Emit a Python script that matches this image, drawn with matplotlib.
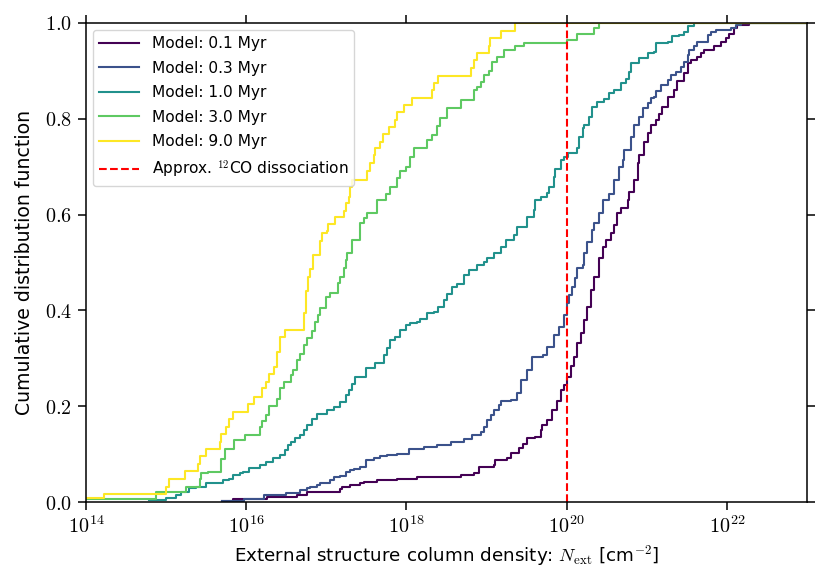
import numpy as np
import matplotlib
matplotlib.use("Agg")
import matplotlib.pyplot as plt
from matplotlib.ticker import FixedLocator, FuncFormatter

# ---------------- data (log10 N_ext knots, CDF value after each knot) ----------------
labels = ["Model: 0.1 Myr", "Model: 0.3 Myr", "Model: 1.0 Myr", "Model: 3.0 Myr", "Model: 9.0 Myr"]
colors = ["#440154", "#3b528b", "#21918c", "#5ec962", "#fde725"]

logN_01 = [15.70, 15.84, 16.26, 16.63, 16.76, 17.175, 17.20, 17.30, 17.425, 17.47, 17.63, 17.88,
           18.13, 18.675, 18.84, 18.90, 19.09, 19.11, 19.26, 19.30, 19.40, 19.45, 19.51, 19.61,
           19.675, 19.695, 19.76, 19.82, 19.885, 19.925, 19.97, 20.01, 20.05, 20.09, 20.13,
           20.175, 20.22, 20.26, 20.30, 20.34, 20.40, 20.45, 20.49, 20.55, 20.59, 20.63, 20.675,
           20.76, 20.78, 20.84, 20.885, 20.905, 20.965, 21.01, 21.05, 21.11, 21.155, 21.195,
           21.26, 21.34, 21.38, 21.47, 21.51, 21.55, 21.63, 21.675, 21.715, 21.84, 21.925,
           21.99, 22.03, 22.09, 22.13, 22.28, 23.0]
cdf_01 = [0.003, 0.007, 0.011, 0.015, 0.021, 0.028, 0.032, 0.035, 0.039, 0.042, 0.046, 0.049,
          0.053, 0.056, 0.060, 0.074, 0.077, 0.088, 0.091, 0.102, 0.112, 0.122, 0.133, 0.136,
          0.150, 0.161, 0.171, 0.192, 0.210, 0.234, 0.244, 0.262, 0.283, 0.303, 0.331,
          0.352, 0.380, 0.408, 0.443, 0.470, 0.509, 0.533, 0.547, 0.561, 0.578, 0.603, 0.613,
          0.630, 0.648, 0.672, 0.707, 0.724, 0.752, 0.770, 0.787, 0.798, 0.811, 0.825,
          0.846, 0.860, 0.878, 0.895, 0.916, 0.923, 0.930, 0.937, 0.944, 0.951, 0.961,
          0.968, 0.978, 0.989, 0.996, 1.0, 1.0]

logN_03 = [15.70, 15.97, 16.22, 16.50, 16.675, 16.76, 16.80, 16.88, 16.925, 17.05, 17.09, 17.175,
           17.24, 17.30, 17.34, 17.425, 17.49, 17.59, 17.675, 17.76, 17.88, 18.03, 18.22, 18.38,
           18.55, 18.72, 18.82, 18.925, 18.97, 19.01, 19.05, 19.09, 19.15, 19.175, 19.30, 19.38,
           19.425, 19.51, 19.57, 19.70, 19.76, 19.84, 19.90, 19.97, 20.01, 20.03, 20.07, 20.11,
           20.13, 20.20, 20.22, 20.26, 20.32, 20.34, 20.40, 20.45, 20.53, 20.59, 20.655, 20.70,
           20.72, 20.80, 20.84, 20.905, 20.95, 21.01, 21.05, 21.09, 21.11, 21.175, 21.26, 21.30,
           21.36, 21.425, 21.47, 21.51, 21.53, 21.59, 21.63, 21.76, 21.80, 21.86, 22.05, 22.11,
           22.175, 23.0]
cdf_03 = [0.003, 0.006, 0.015, 0.018, 0.025, 0.029, 0.032, 0.036, 0.040, 0.046, 0.053, 0.055,
          0.063, 0.066, 0.068, 0.074, 0.088, 0.091, 0.095, 0.098, 0.101, 0.110, 0.114, 0.119,
          0.125, 0.131, 0.140, 0.147, 0.157, 0.171, 0.181, 0.192, 0.202, 0.210, 0.213, 0.227,
          0.255, 0.276, 0.303, 0.307, 0.324, 0.349, 0.366, 0.390, 0.415, 0.432, 0.449, 0.467,
          0.488, 0.495, 0.519, 0.543, 0.568, 0.582, 0.603, 0.630, 0.644, 0.672, 0.700, 0.714,
          0.735, 0.763, 0.787, 0.804, 0.822, 0.832, 0.843, 0.846, 0.857, 0.871, 0.881, 0.891,
          0.898, 0.909, 0.919, 0.933, 0.944, 0.951, 0.961, 0.975, 0.982, 0.985, 0.989, 0.996,
          1.0, 1.0]

logN_10 = [14.79, 15.00, 15.125, 15.19, 15.29, 15.375, 15.50, 15.71, 15.79, 15.83, 15.92, 15.96,
           16.04, 16.17, 16.25, 16.33, 16.42, 16.48, 16.52, 16.56, 16.61, 16.675, 16.72, 16.76,
           16.82, 16.88, 17.01, 17.09, 17.175, 17.24, 17.28, 17.32, 17.36, 17.49, 17.61, 17.72,
           17.76, 17.80, 17.86, 17.925, 17.99, 18.05, 18.13, 18.175, 18.26, 18.34, 18.40, 18.47,
           18.51, 18.57, 18.63, 18.72, 18.78, 18.88, 18.97, 19.01, 19.09, 19.175, 19.24, 19.34,
           19.38, 19.51, 19.59, 19.61, 19.675, 19.76, 19.78, 19.84, 19.86, 19.925, 19.97, 20.02,
           20.13, 20.15, 20.20, 20.22, 20.28, 20.32, 20.38, 20.47, 20.53, 20.59, 20.675, 20.74,
           20.78, 20.80, 20.90, 21.01, 21.09, 21.11, 21.26, 21.32, 21.40, 21.47, 21.51, 21.59,
           23.0]
cdf_10 = [0.004, 0.008, 0.015, 0.021, 0.029, 0.032, 0.039, 0.046, 0.049, 0.056, 0.060, 0.063,
          0.070, 0.077, 0.084, 0.091, 0.098, 0.109, 0.119, 0.126, 0.133, 0.140, 0.150, 0.160,
          0.174, 0.184, 0.192, 0.199, 0.209, 0.223, 0.234, 0.247, 0.262, 0.279, 0.290, 0.307,
          0.321, 0.338, 0.345, 0.359, 0.369, 0.373, 0.376, 0.383, 0.394, 0.397, 0.408, 0.421,
          0.435, 0.449, 0.456, 0.474, 0.484, 0.495, 0.502, 0.510, 0.519, 0.533, 0.546, 0.557,
          0.574, 0.595, 0.609, 0.630, 0.637, 0.645, 0.658, 0.679, 0.696, 0.714, 0.721, 0.728,
          0.738, 0.762, 0.780, 0.787, 0.804, 0.825, 0.836, 0.842, 0.853, 0.860, 0.874, 0.884,
          0.898, 0.916, 0.926, 0.937, 0.940, 0.958, 0.961, 0.972, 0.975, 0.982, 0.993, 1.0,
          1.0]

logN_30 = [13.8, 14.875, 15.25, 15.42, 15.44, 15.52, 15.69, 15.74, 15.85, 15.99, 16.17, 16.20,
           16.25, 16.28, 16.38, 16.42, 16.47, 16.56, 16.59, 16.63, 16.675, 16.72, 16.76, 16.82,
           16.86, 16.90, 16.925, 16.99, 17.05, 17.15, 17.175, 17.22, 17.25, 17.26, 17.32, 17.425,
           17.47, 17.51, 17.63, 17.74, 17.80, 17.88, 17.925, 17.99, 18.05, 18.09, 18.26, 18.32,
           18.38, 18.425, 18.51, 18.675, 18.84, 18.88, 18.925, 18.97, 19.03, 19.07, 19.13, 19.22,
           19.36, 19.47, 20.01, 20.13, 20.34, 20.40, 23.0]
cdf_30 = [0.007, 0.020, 0.032, 0.049, 0.060, 0.063, 0.090, 0.110, 0.129, 0.140, 0.157, 0.170,
          0.182, 0.200, 0.215, 0.237, 0.251, 0.265, 0.276, 0.296, 0.310, 0.328, 0.342, 0.356,
          0.376, 0.390, 0.404, 0.429, 0.436, 0.457, 0.470, 0.488, 0.505, 0.519, 0.547, 0.582,
          0.592, 0.604, 0.630, 0.644, 0.658, 0.676, 0.690, 0.700, 0.720, 0.738, 0.755, 0.766,
          0.784, 0.801, 0.822, 0.839, 0.860, 0.867, 0.877, 0.891, 0.900, 0.919, 0.930, 0.944,
          0.951, 0.959, 0.964, 0.978, 0.990, 1.0, 1.0]

logN_90 = [13.8, 14.23, 15.00, 15.04, 15.23, 15.40, 15.42, 15.50, 15.67, 15.69, 15.75, 15.78,
           15.83, 16.02, 16.10, 16.20, 16.25, 16.28, 16.35, 16.38, 16.42, 16.48, 16.72, 16.75,
           16.77, 16.80, 16.83, 16.925, 16.94, 17.01, 17.02, 17.11, 17.22, 17.25, 17.28, 17.30,
           17.32, 17.51, 17.55, 17.59, 17.61, 17.675, 17.71, 17.78, 17.86, 17.88, 17.97, 18.07,
           18.32, 18.34, 18.40, 18.80, 18.84, 18.88, 19.03, 19.04, 19.175, 19.36, 23.0]
cdf_90 = [0.008, 0.016, 0.032, 0.048, 0.065, 0.080, 0.095, 0.110, 0.126, 0.143, 0.157, 0.173,
          0.187, 0.205, 0.220, 0.237, 0.251, 0.267, 0.281, 0.314, 0.344, 0.360, 0.394, 0.440,
          0.470, 0.486, 0.516, 0.545, 0.561, 0.566, 0.580, 0.594, 0.608, 0.625, 0.637, 0.658,
          0.672, 0.690, 0.707, 0.724, 0.740, 0.752, 0.768, 0.783, 0.797, 0.815, 0.829, 0.844,
          0.860, 0.874, 0.890, 0.906, 0.922, 0.937, 0.953, 0.968, 0.984, 1.0, 1.0]

series_logN = [logN_01, logN_03, logN_10, logN_30, logN_90]
series_cdf = [cdf_01, cdf_03, cdf_10, cdf_30, cdf_90]

co_dissociation = 1e20
xticks_log = [14, 16, 18, 20, 22]
yticks = [0.0, 0.2, 0.4, 0.6, 0.8, 1.0]

# ---------------- figure ----------------
plt.rcParams["font.family"] = ["DejaVu Sans"]
plt.rcParams["mathtext.fontset"] = "cm"

fig = plt.figure(figsize=(8.31, 5.83), dpi=100)
ax = fig.add_axes([86 / 831, 1 - 502 / 583, (807 - 86) / 831, (502 - 23) / 583])

for lx, cy, lab, col in zip(series_logN, series_cdf, labels, colors):
    ax.step(10.0 ** np.array(lx), cy, where="post", color=col, lw=1.5, label=lab)

ax.axvline(co_dissociation, color="red", ls="--", lw=1.5, label=r"Approx. $^{12}$CO dissociation")

ax.set_xscale("log")
ax.set_xlim(1e14, 1e23)
ax.set_ylim(0, 1)
ax.xaxis.set_major_locator(FixedLocator([10.0 ** k for k in xticks_log]))
ax.xaxis.set_minor_locator(FixedLocator([]))
ax.xaxis.set_major_formatter(FuncFormatter(lambda v, p: r"$10^{%d}$" % round(np.log10(v))))
ax.set_yticks(yticks)
ax.yaxis.set_major_formatter(FuncFormatter(lambda v, p: r"$%.1f$" % v))

ax.tick_params(which="both", direction="out", top=True, right=True, length=5.5, width=1.1,
               labelsize=14.5, pad=4.5)
for s in ax.spines.values():
    s.set_linewidth(1.1)

ax.set_xlabel(r"External structure column density: $N_{\mathrm{ext}}$ [cm$^{-2}$]", fontsize=13.2)
ax.set_ylabel("Cumulative distribution function", fontsize=13.6, labelpad=8)

ax.legend(loc="upper left", fontsize=11.1, handlelength=2.6, borderaxespad=0.45,
          labelspacing=0.62)

fig.savefig("out.png", dpi=100)
